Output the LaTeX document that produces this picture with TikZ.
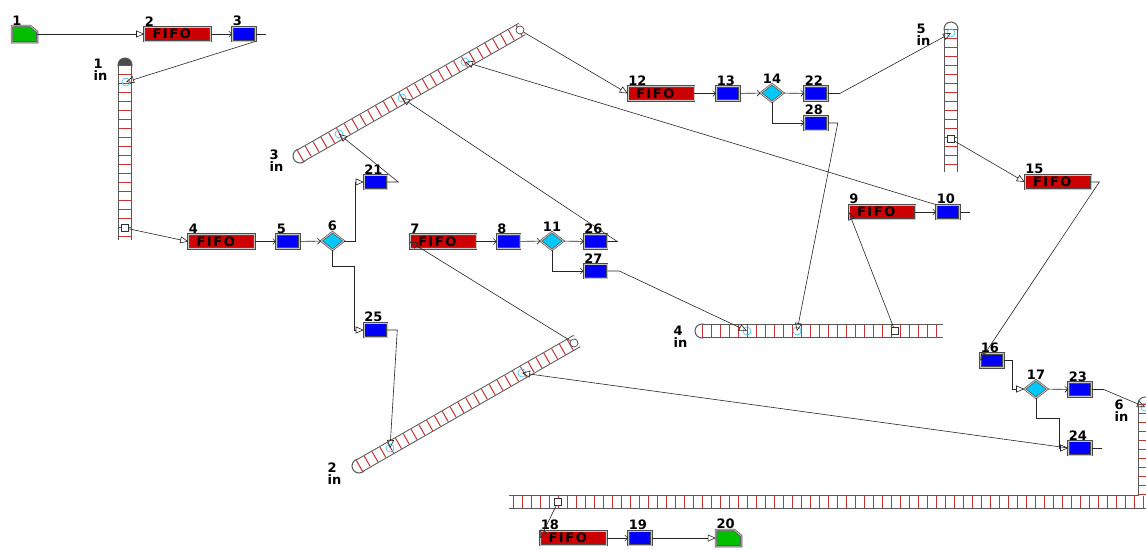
\documentclass[tikz,border=0pt]{standalone}
\usepackage{fontspec}
\setmainfont{DejaVu Sans}
\newfontfamily\fifofamily{DejaVu Sans}[LetterSpace=12]
\newcommand\lblfont{\fontsize{13}{12.5}\selectfont\bfseries}
\newcommand\fifofont{\fifofamily\fontsize{13}{13}\selectfont\bfseries}
\usetikzlibrary{arrows.meta,shapes.geometric}
\definecolor{fifored}{RGB}{204,0,0}
\definecolor{procblue}{RGB}{0,0,250}
\definecolor{deccyan}{RGB}{0,200,250}
\definecolor{srcgreen}{RGB}{0,190,0}
\definecolor{beltred}{RGB}{200,50,50}
\begin{document}
\begin{tikzpicture}[x=1pt,y=-1pt,
 rim/.style={draw=black!70,double=gray!45,double distance=0.9pt,line width=0.6pt},
 fifo/.style={rim,fill=fifored,minimum width=66pt,minimum height=14pt,inner sep=0pt,text width=50pt,align=left,font=\fifofont},
 proc/.style={rim,fill=procblue,minimum width=23pt,minimum height=14pt,inner sep=0pt},
 dec/.style={rim,diamond,fill=deccyan,minimum width=23pt,minimum height=18pt,inner sep=0pt},
 src/.style={minimum width=25pt,minimum height=16pt,inner sep=0pt},
 num/.style={font=\lblfont,inner sep=0.5pt},
 lab/.style={label={[num,anchor=south west]north west:#1}},
 dlab/.style={label={[num]above:#1}},
 tag/.style={num,align=left,anchor=north west},
 belt/.style={draw=gray!70!black,line width=14pt,postaction={draw=white,line width=12pt},postaction={draw=beltred,line width=12pt,dash pattern=on 1pt off 8pt}},
 beltend/.style={circle,draw=gray!70!black,fill=white,line width=1pt,minimum size=14pt,inner sep=0pt},
 entmark/.style={circle,draw=cyan!70,line width=0.7pt,minimum size=8pt,inner sep=0pt},
 exitmark/.style={rectangle,draw=black!80,fill=white,line width=0.6pt,minimum size=7pt,inner sep=0pt},
 endmark/.style={circle,draw=black!80,fill=white,line width=0.6pt,minimum size=8pt,inner sep=0pt},
 wire/.style={draw=black!85,line width=0.6pt},
 go/.style={wire,-{Straight Barb[length=3pt,width=6pt]}},
 feed/.style={wire,-{Triangle[open,length=8pt,width=7pt]}}]
\path[use as bounding box,fill=white](0,0)rectangle(1146,549);
\coordinate(c1a)at(125,65);\coordinate(c1b)at(125,240);
\coordinate(c3a)at(300,156);\coordinate(c3b)at(522,29);
\coordinate(c5a)at(951,29);\coordinate(c5b)at(951,172);
\coordinate(c4a)at(702,331);\coordinate(c4b)at(943,331);
\coordinate(c2a)at(359,466);\coordinate(c2b)at(577,341);
\coordinate(c6a)at(1145,404);\coordinate(c6m)at(1145,502);\coordinate(c6b)at(509,502);
\node[beltend,fill=gray!60!black](k1)at(c1a){};\node[beltend](k3)at(c3a){};\node[beltend](k5)at(c5a){};
\node[beltend](k4)at(c4a){};\node[beltend](k2)at(c2a){};\node[beltend](k6)at(c6a){};
\foreach \a/\b in {c1a/c1b,c3a/c3b,c5a/c5b,c4a/c4b,c2a/c2b}\path[belt](\a)--(\b);
\path[belt](c6a)--(c6m)--(c6b);
\coordinate(e1)at(126,82);\coordinate(e3a)at(339,134);\coordinate(e3b)at(402,98);\coordinate(e3c)at(465,62);
\coordinate(e5)at(951,33);\coordinate(e4a)at(747,331);\coordinate(e4b)at(797,331);
\coordinate(e2a)at(390,448);\coordinate(e2b)at(522,373);\coordinate(e6)at(1145,407);
\foreach \e in {e1,e3a,e3b,e3c,e5,e4a,e4b,e2a,e2b,e6}\node[entmark](m\e)at(\e){};
\node[exitmark](x1)at(125,228){};\node[exitmark](x5)at(951,139){};\node[exitmark](x4)at(895,331){};\node[exitmark](x6)at(558,502){};
\node[endmark](x3)at(520,30){};\node[endmark](x2)at(574,343){};
\node[tag](t1)at(93,58){1\\in};\node[tag](t3)at(269,149){3\\in};\node[tag](t5)at(916,23){5\\in};
\node[tag](t4)at(673,325){4\\in};\node[tag](t2)at(327,462){2\\in};\node[tag](t6)at(1114,399){6\\in};
\node[src,lab=1](b1)at(24.5,34){};\node[fifo,lab=2](b2)at(177.5,34){FIFO};\node[proc,lab=3](b3)at(244,34){};
\node[fifo,lab=4](b4)at(221.5,241.5){FIFO};\node[proc,lab=5](b5)at(288,241.5){};\node[dec,dlab=6](b6)at(332.5,241){};
\node[proc,lab=21](b21)at(375.5,182){};\node[proc,lab=25](b25)at(375.5,330){};
\node[fifo,lab=7](b7)at(443,241.5){FIFO};\node[proc,lab=8](b8)at(508.5,241.5){};\node[dec,dlab=11](b11)at(552,241){};
\node[proc,lab=26](b26)at(595.5,241.5){};\node[proc,lab=27](b27)at(595.5,271){};
\node[fifo,lab=12](b12)at(661,93.5){FIFO};\node[proc,lab=13](b13)at(728,93.5){};\node[dec,dlab=14](b14)at(772,93){};
\node[proc,lab=22](b22)at(816,93.5){};\node[proc,lab=28](b28)at(816,123){};
\node[fifo,lab=9](b9)at(882,212){FIFO};\node[proc,lab=10](b10)at(948,212){};
\node[fifo,lab=15](b15)at(1058,182){FIFO};\node[proc,lab=16](b16)at(992,360.5){};
\node[dec,dlab=17](b17)at(1036,389){};\node[proc,lab=23](b23)at(1080,389.5){};\node[proc,lab=24](b24)at(1080,448){};
\node[fifo,lab=18](b18)at(573.5,538){FIFO};\node[proc,lab=19](b19)at(640,538){};\node[src,lab=20](b20)at(728.5,538){};
\foreach \s in {b1,b20}\draw[rim,fill=srcgreen](\s.south west)--(\s.north west)--([xshift=-7pt]\s.north east)--([yshift=-6pt]\s.north east)--(\s.south east)--cycle;
\draw[feed](b1)--(b2);\draw[go](b2)--(b3);\draw[wire](b3.east)--++(10,0);\draw[feed](b3.south east)--(e1);
\draw[feed](x1)--(b4.west);\draw[go](b4)--(b5);\draw[go](b5)--(b6);
\draw[feed](b6.east)--++(11,0)|-(b21.west);\draw[feed](b6.south)--++(0,16)--++(22,0)|-(b25.west);
\draw[feed](b21.east)--++(11,0)--(e3a);\draw[feed](b25.east)--++(10,0)--(e2a);
\draw[feed](x2)--(b7.west);\draw[go](b7)--(b8);\draw[go](b8)--(b11);\draw[go](b11)--(b26);\draw[go](b11.south)|-(b27.west);
\draw[feed](b26.east)--++(10,0)--(e3b);\draw[feed](b27.east)--++(12,0)--(e4a);
\draw[feed](x3)--(b12.west);\draw[go](b12)--(b13);\draw[go](b13)--(b14);\draw[go](b14)--(b22);\draw[go](b14.south)|-(b28.west);
\draw[feed](b22.east)--++(12,0)--(e5);\draw[feed](b28.east)--++(10,0)--(e4b);
\draw[feed](x4)--(b9.west);\draw[go](b9)--(b10);\draw[wire](b10.east)--++(10,0);\draw[feed](b10.north west)--(e3c);
\draw[feed](x5)--(b15.west);\draw[feed](b15.east)--++(8,0)--(b16.west);\draw[feed](b16.east)--++(8,0)|-(b17.west);
\draw[go](b17)--(b23);\draw[feed](b17.south)--++(0,20)--++(23,0)|-(b24.west);
\draw[feed](b23.east)--++(12,0)--(e6);\draw[feed](b24.west)--(e2b);\draw[wire](b24.east)--++(10,0);
\draw[feed](x6)--(b18.west);\draw[go](b18)--(b19);\draw[feed](b19)--(b20);
\end{tikzpicture}
\end{document}
